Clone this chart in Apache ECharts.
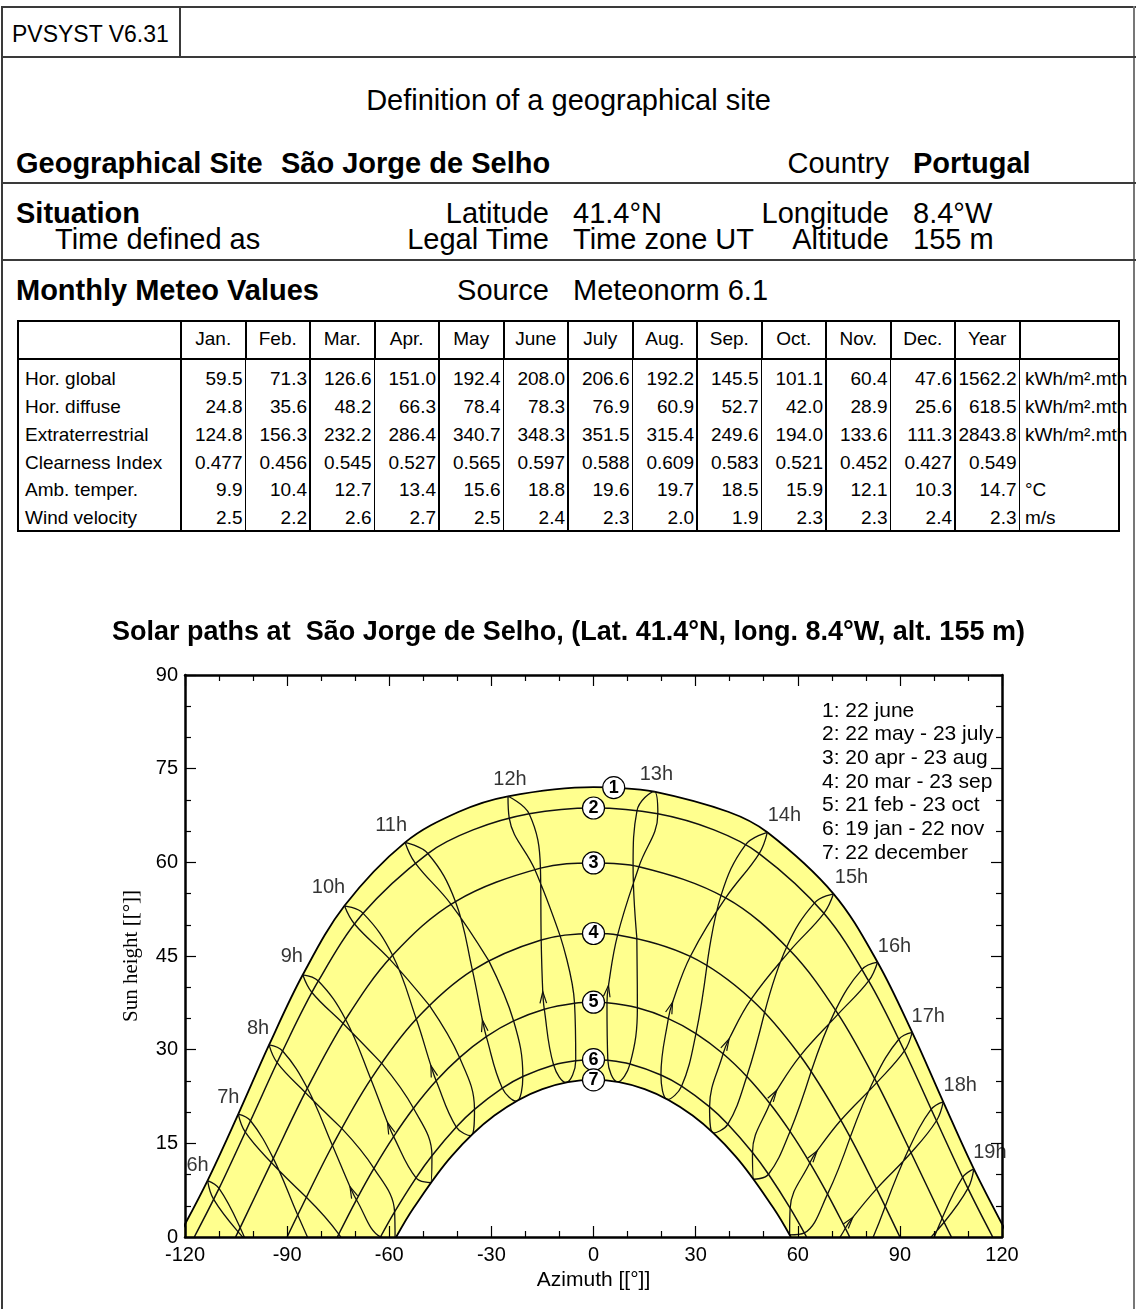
<!DOCTYPE html>
<html lang="en">
<head>
<meta charset="utf-8">
<title>Definition of a geographical site</title>
<script src="https://cdn.jsdelivr.net/npm/echarts@6/dist/echarts.min.js"></script>
<style>
html,body{margin:0;padding:0;background:#fff}
body{position:relative;width:1137px;height:1309px;overflow:hidden;font-family:"Liberation Sans",Arial,Helvetica,sans-serif;color:#000}
.abs{position:absolute}
.ln{position:absolute;background:#3a3a3a}
.tx{position:absolute;white-space:nowrap;line-height:1;font-size:29px}
.b{font-weight:bold}
.cell{position:absolute;white-space:nowrap;line-height:1;font-size:19px}
#chart{position:absolute;left:0;top:590px;width:1137px;height:719px}
</style>
</head>
<body>
<!-- page frame -->
<div class="ln" style="left:1px;top:6px;width:1135px;height:2px"></div>
<div class="ln" style="left:1px;top:6px;width:2px;height:1303px"></div>
<div class="ln" style="left:1133px;top:6px;width:2px;height:1303px;background:#777"></div>
<div class="ln" style="left:1px;top:56px;width:1135px;height:2px"></div>
<div class="ln" style="left:179px;top:6px;width:2px;height:51px"></div>
<div class="ln" style="left:1px;top:182px;width:1135px;height:2px"></div>
<div class="ln" style="left:1px;top:259px;width:1135px;height:2px"></div>

<div class="tx" style="left:12px;top:23px;font-size:23px">PVSYST V6.31</div>
<div class="tx" style="left:0;width:1137px;text-align:center;top:86px">Definition of a geographical site</div>

<div class="tx b" style="left:16px;top:149px">Geographical Site</div>
<div class="tx b" style="left:281px;top:149px">São Jorge de Selho</div>
<div class="tx" style="right:248px;top:149px">Country</div>
<div class="tx b" style="left:913px;top:149px">Portugal</div>

<div class="tx b" style="left:16px;top:199px">Situation</div>
<div class="tx" style="right:588px;top:199px">Latitude</div>
<div class="tx" style="left:573px;top:199px">41.4°N</div>
<div class="tx" style="right:248px;top:199px">Longitude</div>
<div class="tx" style="left:913px;top:199px">8.4°W</div>
<div class="tx" style="left:55px;top:225px">Time defined as</div>
<div class="tx" style="right:588px;top:225px">Legal Time</div>
<div class="tx" style="left:573px;top:225px">Time zone UT</div>
<div class="tx" style="right:248px;top:225px">Altitude</div>
<div class="tx" style="left:913px;top:225px">155 m</div>

<div class="tx b" style="left:16px;top:276px">Monthly Meteo Values</div>
<div class="tx" style="right:588px;top:276px">Source</div>
<div class="tx" style="left:573px;top:276px">Meteonorm 6.1</div>

<div id="chart"></div>

<script>
// ---------- Monthly meteo table ----------
const months = ['Jan.', 'Feb.', 'Mar.', 'Apr.', 'May', 'June', 'July', 'Aug.', 'Sep.', 'Oct.', 'Nov.', 'Dec.', 'Year'];
const horGlobal = [59.5, 71.3, 126.6, 151.0, 192.4, 208.0, 206.6, 192.2, 145.5, 101.1, 60.4, 47.6, 1562.2];
const horDiffuse = [24.8, 35.6, 48.2, 66.3, 78.4, 78.3, 76.9, 60.9, 52.7, 42.0, 28.9, 25.6, 618.5];
const extraterrestrial = [124.8, 156.3, 232.2, 286.4, 340.7, 348.3, 351.5, 315.4, 249.6, 194.0, 133.6, 111.3, 2843.8];
const clearnessIndex = [0.477, 0.456, 0.545, 0.527, 0.565, 0.597, 0.588, 0.609, 0.583, 0.521, 0.452, 0.427, 0.549];
const ambTemper = [9.9, 10.4, 12.7, 13.4, 15.6, 18.8, 19.6, 19.7, 18.5, 15.9, 12.1, 10.3, 14.7];
const windVelocity = [2.5, 2.2, 2.6, 2.7, 2.5, 2.4, 2.3, 2.0, 1.9, 2.3, 2.3, 2.4, 2.3];

const meteoRows = [
  ['Hor. global', horGlobal, 1, 'kWh/m².mth'],
  ['Hor. diffuse', horDiffuse, 1, 'kWh/m².mth'],
  ['Extraterrestrial', extraterrestrial, 1, 'kWh/m².mth'],
  ['Clearness Index', clearnessIndex, 3, ''],
  ['Amb. temper.', ambTemper, 1, '°C'],
  ['Wind velocity', windVelocity, 1, 'm/s']
];

function addDiv(cls, css, text) {
  const d = document.createElement('div');
  d.className = cls;
  d.style.cssText = css;
  if (text != null) d.textContent = text;
  document.body.appendChild(d);
  return d;
}

(function buildTable() {
  const left = 17, top = 320, right = 1120, bottom = 532, headBottom = 359;
  const col0 = 181, colW = 64.5;
  addDiv('abs', `left:${left}px;top:${top}px;width:${right - left}px;height:${bottom - top}px;border:2px solid #000;box-sizing:border-box`);
  addDiv('abs', `left:${left}px;top:${headBottom - 1.5}px;width:${right - left}px;height:2.5px;background:#000`);
  for (let i = 0; i <= months.length; i++) {
    const x = col0 + colW * i;
    addDiv('abs', `left:${x - 1}px;top:${top}px;width:2px;height:${headBottom - top}px;background:#000`);
    addDiv('abs', `left:${x - 0.6}px;top:${headBottom}px;width:1.2px;height:${bottom - headBottom}px;background:#000`);
  }
  months.forEach((m, i) => {
    addDiv('cell', `left:${col0 + colW * i}px;width:${colW}px;text-align:center;top:328.7px`, m);
  });
  meteoRows.forEach((row, r) => {
    const cy = 378.3 + 27.85 * r;
    const top = cy - 9.3;
    addDiv('cell', `left:25px;top:${top}px`, row[0]);
    row[1].forEach((v, i) => {
      const xr = col0 + colW * (i + 1) - 3;
      addDiv('cell', `right:${1137 - xr}px;top:${top}px`, v.toFixed(row[2]));
    });
    if (row[3]) addDiv('cell', `left:1025px;top:${top}px`, row[3]);
  });
})();

// ---------- Solar paths: [azimuth °, sun height °] ----------
// Date curves (1 = 22 june ... 7 = 22 december), sunrise to sunset
const path1 = [[-122.03, 0], [-113.37, 9.04], [-104.35, 19.68], [-95.31, 30.76], [-85.40, 41.99], [-73.16, 53.04], [-55.33, 63.19], [-39.54, 68.10], [-25.12, 70.58], [0, 72.04], [5.94, 71.97], [17.87, 71.33], [39.54, 68.10], [51.06, 64.81], [70.51, 54.96], [83.44, 44.01], [93.62, 32.77], [102.74, 21.65], [111.72, 10.91], [122.03, 0]];
const path2 = [[-117.27, 0], [-110.00, 7.78], [-100.75, 18.62], [-91.33, 29.79], [-80.83, 41.00], [-67.68, 51.83], [-48.67, 61.41], [-35.39, 65.19], [-18.90, 67.77], [0, 68.70], [18.90, 67.77], [35.39, 65.19], [48.67, 61.41], [67.68, 51.83], [80.83, 41.00], [91.33, 29.79], [100.75, 18.62], [110.00, 7.78], [117.27, 0]];
const path3 = [[-105.14, 0], [-103.79, 1.49], [-94.06, 12.59], [-84.05, 23.83], [-72.82, 34.84], [-59.02, 45.11], [-40.56, 53.72], [-15.59, 59.07], [0, 59.90], [13.34, 59.30], [38.82, 54.30], [57.74, 45.87], [71.86, 35.69], [83.21, 24.72], [93.28, 13.49], [103.00, 2.36], [105.14, 0]];
const path4 = [[-90, 0], [-86.89, 3.52], [-76.68, 14.65], [-65.40, 25.28], [-52.05, 34.90], [-35.56, 42.70], [-15.37, 47.56], [0, 48.60], [7.09, 48.38], [28.44, 44.93], [46.32, 38.08], [60.72, 29.02], [72.64, 18.70], [83.15, 7.71], [90, 0]];
const path5 = [[-75.26, 0], [-69.65, 5.96], [-64.50, 11.00], [-58.72, 16.08], [-52.88, 20.61], [-46.22, 25.01], [-39.35, 28.73], [-31.49, 32.08], [-23.46, 34.60], [-14.46, 36.48], [-5.57, 37.44], [0, 37.60], [3.96, 37.52], [12.89, 36.71], [21.98, 34.98], [30.10, 32.58], [38.07, 29.34], [45.03, 25.70], [51.80, 21.38], [57.73, 16.91], [63.55, 11.88], [68.75, 6.87], [73.98, 1.40], [75.26, 0]];
const path6 = [[-62.59, 0], [-58.43, 4.03], [-52.13, 9.48], [-47.46, 13.01], [-40.30, 17.60], [-34.96, 20.43], [-26.78, 23.83], [-20.76, 25.70], [-11.71, 27.55], [-5.22, 28.23], [0, 28.40], [4.21, 28.29], [10.71, 27.69], [19.81, 25.94], [25.87, 24.15], [34.10, 20.84], [39.48, 18.07], [46.70, 13.54], [51.41, 10.05], [57.77, 4.63], [62.59, 0]];
const path7 = [[-57.97, 0], [-52.86, 4.65], [-41.73, 12.92], [-29.11, 19.45], [-15.03, 23.69], [0, 25.16], [15.03, 23.69], [29.11, 19.45], [41.73, 12.92], [52.86, 4.65], [57.97, 0]];

// Where each curve number is tagged
const curveTags = [[5.94, 71.97], [0, 68.70], [0, 59.90], [0, 48.60], [0, 37.60], [0, 28.40], [0, 25.16]];
const curveTagNames = ['1', '2', '3', '4', '5', '6', '7'];

// Hour lines (legal time), one point per date through the year:
// 23 sep, 23 oct, 22 nov, 22 dec, 19 jan, 21 feb, 28 feb, 20 mar, 20 apr, 22 may, 22 june, 23 july, 23 aug, 23 sep
const h06 = [[-94.31, -4.87], [-84.62, -10.60], [-77.58, -16.77], [-76.75, -21.03], [-81.35, -21.30], [-89.38, -16.07], [-91.46, -14.10], [-96.85, -7.71], [-103.79, 1.49], [-110.00, 7.78], [-113.37, 9.04], [-111.57, 6.02], [-104.39, 0.83], [-94.31, -4.87]];
const h07 = [[-84.36, 6.37], [-74.84, 0.46], [-68.29, -6.02], [-67.76, -10.32], [-72.14, -10.36], [-79.63, -4.88], [-81.61, -2.88], [-86.89, 3.52], [-94.06, 12.59], [-100.75, 18.62], [-104.35, 19.68], [-102.28, 16.78], [-94.64, 11.92], [-84.36, 6.37]];
const h08 = [[-73.96, 17.40], [-64.50, 11.00], [-58.43, 4.03], [-58.29, -0.30], [-62.58, 0.01], [-69.65, 5.96], [-71.53, 8.05], [-76.68, 14.65], [-84.05, 23.83], [-91.33, 29.79], [-95.31, 30.76], [-92.94, 27.92], [-84.67, 23.15], [-73.96, 17.40]];
const h09 = [[-62.26, 27.84], [-52.88, 20.61], [-47.46, 13.01], [-47.84, 8.69], [-52.13, 9.48], [-58.72, 16.08], [-60.51, 18.32], [-65.40, 25.28], [-72.82, 34.84], [-80.83, 41.00], [-85.40, 41.99], [-82.71, 39.15], [-73.55, 34.19], [-62.26, 27.84]];
const h10 = [[-48.22, 37.08], [-39.35, 28.73], [-34.96, 20.43], [-36.04, 16.22], [-40.30, 17.60], [-46.22, 25.01], [-47.77, 27.45], [-52.05, 34.90], [-59.02, 45.11], [-67.68, 51.83], [-73.16, 53.04], [-70.15, 50.08], [-59.94, 44.53], [-48.22, 37.08]];
const h11 = [[-30.78, 44.26], [-23.46, 34.60], [-20.76, 25.70], [-22.70, 21.74], [-26.78, 23.83], [-31.49, 32.08], [-32.63, 34.72], [-35.56, 42.70], [-40.56, 53.72], [-48.67, 61.41], [-55.33, 63.19], [-52.45, 59.96], [-41.84, 53.28], [-30.78, 44.26]];
const h12 = [[-9.78, 48.18], [-5.57, 37.44], [-5.22, 28.23], [-8.08, 24.74], [-11.71, 27.55], [-14.46, 36.48], [-14.90, 39.27], [-15.37, 47.56], [-15.59, 59.07], [-18.90, 67.77], [-25.12, 70.58], [-24.75, 67.07], [-17.27, 58.88], [-9.78, 48.18]];
const h13 = [[12.73, 47.89], [12.89, 36.71], [10.71, 27.69], [7.08, 24.84], [4.21, 28.29], [3.96, 37.52], [4.41, 40.30], [7.09, 48.38], [13.34, 59.30], [18.90, 67.77], [17.87, 71.33], [12.78, 68.28], [11.63, 59.44], [12.73, 47.89]];
const h14 = [[33.32, 43.46], [30.10, 32.58], [25.87, 24.15], [21.76, 22.03], [19.81, 25.94], [21.98, 34.98], [23.23, 37.60], [28.44, 44.93], [38.82, 54.30], [48.67, 61.41], [51.06, 64.81], [44.59, 62.77], [37.47, 54.71], [33.32, 43.46]];
const h15 = [[50.26, 35.95], [45.03, 25.70], [39.48, 18.07], [35.19, 16.65], [34.10, 20.84], [38.07, 29.34], [39.82, 31.70], [46.32, 38.08], [57.74, 45.87], [67.68, 51.83], [70.51, 54.96], [65.02, 53.54], [56.75, 46.44], [50.26, 35.95]];
const h16 = [[63.93, 26.50], [57.73, 16.91], [51.41, 10.05], [47.09, 9.25], [46.70, 13.54], [51.80, 21.38], [53.81, 23.49], [60.72, 29.02], [71.86, 35.69], [80.83, 41.00], [83.44, 44.01], [78.88, 42.85], [71.09, 36.33], [63.93, 26.50]];
const h17 = [[75.40, 15.96], [68.75, 6.87], [61.94, 0.65], [57.61, 0.34], [57.77, 4.63], [63.55, 11.88], [65.67, 13.78], [72.64, 18.70], [83.21, 24.72], [91.33, 29.79], [93.62, 32.77], [89.69, 31.67], [82.57, 25.39], [75.40, 15.96]];
const h18 = [[85.69, 4.87], [78.78, -3.92], [71.55, -9.68], [67.15, -9.63], [67.69, -5.36], [73.98, 1.40], [76.17, 3.15], [83.15, 7.71], [93.28, 13.49], [100.75, 18.62], [102.74, 21.65], [99.21, 20.46], [92.69, 14.16], [85.69, 4.87]];
const h19 = [[95.64, -6.37], [88.53, -15.09], [80.77, -20.60], [76.16, -20.30], [76.99, -16.07], [83.78, -9.63], [86.05, -7.95], [93.11, -3.52], [103.00, 2.36], [110.00, 7.78], [111.72, 10.91], [108.44, 9.55], [102.42, 3.02], [95.64, -6.37]];

const hourNames = ['6h', '7h', '8h', '9h', '10h', '11h', '12h', '13h', '14h', '15h', '16h', '17h', '18h', '19h'];
const hourLines = [h06, h07, h08, h09, h10, h11, h12, h13, h14, h15, h16, h17, h18, h19];

const legendLines = ['1: 22 june', '2: 22 may - 23 july', '3: 20 apr - 23 aug', '4: 20 mar - 23 sep', '5: 21 feb - 23 oct', '6: 19 jan - 22 nov', '7: 22 december'];
const xTicks = { min: -120, max: 120, step: 30 };
const yTicks = { min: 0, max: 90, step: 15 };

// index of the 22 june point and of the direction mark in each hour line
const JUNE_IDX = 10, MARK_IDX = 6;
// hour label placement relative to the 22 june point (px)
const hourLabelShift = [[-10, -15], [-10, -17], [-11, -16], [-11, -18], [-16, -18], [-14, -17], [2, -17], [2, -17], [17, -17], [18, -16], [17, -16], [16, -16], [17, -16], [16, -16]];

const FONT = '"Liberation Sans", Arial, Helvetica, sans-serif';
const chart = echarts.init(document.getElementById('chart'), null, { renderer: 'canvas' });

function frameAxis(position, showLabels, ticks) {
  return {
    type: 'value', position, min: ticks.min, max: ticks.max, interval: ticks.step,
    z: 10,
    axisLine: { show: true, onZero: false, lineStyle: { color: '#000', width: 2.5 } },
    axisTick: { show: true, inside: true, length: 11, lineStyle: { color: '#000', width: 1.2 } },
    minorTick: { show: true, splitNumber: 3, length: 6, lineStyle: { color: '#000', width: 1.2 } },
    splitLine: { show: false }, minorSplitLine: { show: false },
    axisLabel: { show: showLabels, color: '#000', fontFamily: FONT, fontSize: 20, margin: 8, showMinLabel: true, showMaxLabel: true, hideOverlap: false }
  };
}

const series = [];
// sunny envelope: area under the 22 june curve
series.push({
  name: 'path1', type: 'line', data: path1, smooth: 0.35, symbol: 'none', z: 1, silent: true,
  lineStyle: { color: '#000', width: 1.8 },
  areaStyle: { color: '#ffff8e', opacity: 1, origin: 'start' }
});
hourLines.forEach((d, i) => {
  series.push({
    name: hourNames[i], type: 'line', data: d, smooth: 0.4, symbol: 'none', z: 2, silent: true,
    lineStyle: { color: '#111', width: 1.3 }
  });
});
[path2, path3, path4, path5, path6].forEach((d, i) => {
  series.push({
    name: 'path' + (i + 2), type: 'line', data: d, smooth: 0.35, symbol: 'none', z: 2, silent: true,
    lineStyle: { color: '#111', width: 1.5 }
  });
});
// area under the 22 december curve is never sunlit
series.push({
  name: 'path7', type: 'line', data: path7, smooth: 0.35, symbol: 'none', z: 3, silent: true,
  lineStyle: { color: '#000', width: 1.8 },
  areaStyle: { color: '#fff', opacity: 1, origin: 'start' }
});
// direction marks on each hour line
const markData = hourLines
  .map(d => [d[MARK_IDX][0], d[MARK_IDX][1], d[MARK_IDX - 1][0], d[MARK_IDX - 1][1], d[MARK_IDX + 1][0], d[MARK_IDX + 1][1]])
  .filter(m => m[1] > 0.5);
series.push({
  name: 'marks', type: 'custom', z: 4, silent: true, clip: true,
  encode: { x: 0, y: 1 },
  data: markData,
  renderItem(params, api) {
    const p = api.coord([api.value(0), api.value(1)]);
    const a = api.coord([api.value(2), api.value(3)]);
    const b = api.coord([api.value(4), api.value(5)]);
    let dx = b[0] - a[0], dy = b[1] - a[1];
    const L = Math.hypot(dx, dy) || 1;
    dx = -dx / L; dy = -dy / L;
    const len = 12, ang = 0.28;
    const leg = s => [p[0] + len * (dx * Math.cos(s * ang) - dy * Math.sin(s * ang)),
                      p[1] + len * (dx * Math.sin(s * ang) + dy * Math.cos(s * ang))];
    return {
      type: 'polyline',
      shape: { points: [leg(1), p, leg(-1)] },
      style: { stroke: '#111', lineWidth: 1.2, fill: 'none' }
    };
  }
});
// hour labels at the 22 june end of each hour line
series.push({
  name: 'hours', type: 'scatter', z: 6, silent: true, symbolSize: 0,
  data: hourLines.map((d, i) => ({
    name: hourNames[i], value: d[JUNE_IDX],
    label: { offset: hourLabelShift[i] }
  })),
  label: { show: true, position: 'inside', formatter: '{b}', color: '#000', fontFamily: FONT, fontSize: 20 }
});
// numbered circles on the date curves
series.push({
  name: 'tags', type: 'scatter', z: 6, silent: true, symbol: 'circle', symbolSize: 22,
  itemStyle: { color: '#fff', borderColor: '#000', borderWidth: 1.2, opacity: 1 },
  data: curveTags.map((v, i) => ({ name: curveTagNames[i], value: v })),
  label: { show: true, position: 'inside', formatter: '{b}', color: '#000', fontFamily: FONT, fontSize: 18, fontWeight: 'bold' }
});

const xBottom = frameAxis('bottom', true, xTicks);
xBottom.name = 'Azimuth [[°]]';
xBottom.nameLocation = 'middle';
xBottom.nameGap = 32;
xBottom.nameTextStyle = { color: '#000', fontFamily: FONT, fontSize: 21 };
const yLeft = frameAxis('left', true, yTicks);
yLeft.name = 'Sun height [[°]]';
yLeft.nameLocation = 'middle';
yLeft.nameGap = 43;
yLeft.nameTextStyle = { color: '#000', fontFamily: '"Liberation Serif", "Times New Roman", serif', fontSize: 21 };
yLeft.axisLabel.margin = 7;

chart.setOption({
  animation: false,
  backgroundColor: 'transparent',
  title: {
    text: 'Solar paths at  São Jorge de Selho, (Lat. 41.4°N, long. 8.4°W, alt. 155 m)',
    left: 'center', top: 24,
    textStyle: { color: '#000', fontFamily: FONT, fontSize: 27, fontWeight: 'bold' }
  },
  grid: { left: 185, right: 135, top: 85, bottom: 72, containLabel: false },
  xAxis: [xBottom, frameAxis('top', false, xTicks)],
  yAxis: [yLeft, frameAxis('right', false, yTicks)],
  graphic: [{
    type: 'text', left: 822, top: 109, z: 20,
    style: { text: legendLines.join('\n'), fill: '#000', fontFamily: FONT, fontSize: 21, lineHeight: 23.7 }
  }],
  series
});
</script>
</body>
</html>
